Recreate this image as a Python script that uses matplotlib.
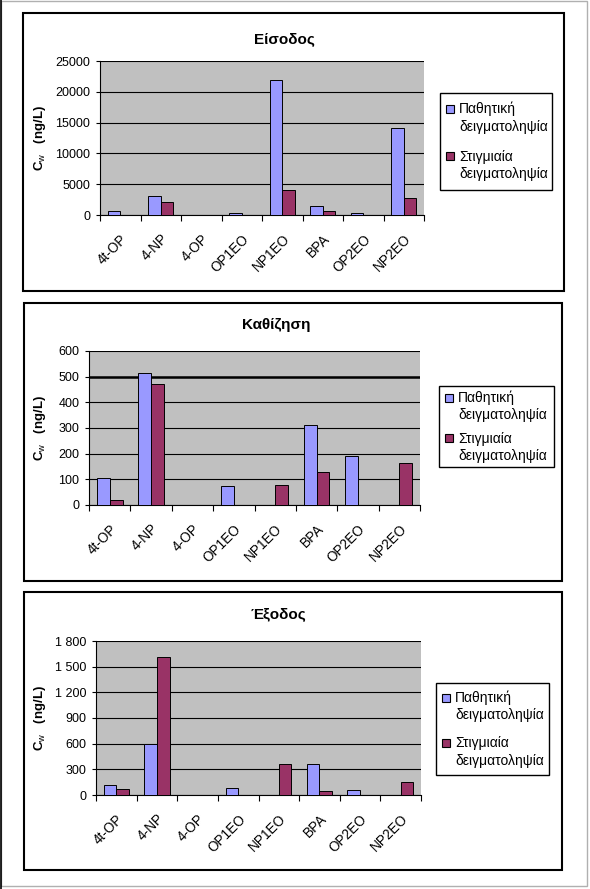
import matplotlib
matplotlib.use("Agg")
import matplotlib.pyplot as plt
import matplotlib.transforms as mtransforms
from matplotlib.patches import Rectangle
from matplotlib.lines import Line2D
from matplotlib.ticker import FixedLocator, FuncFormatter

plt.rcParams["font.family"] = ["Liberation Sans", "DejaVu Sans"]
plt.rcParams["mathtext.fontset"] = "custom"
plt.rcParams["mathtext.rm"] = "Liberation Sans"
plt.rcParams["mathtext.bf"] = "Liberation Sans:bold"

# data
categories = ["4t-OP", "4-NP", "4-OP", "OP1EO", "NP1EO", "BPA", "OP2EO", "NP2EO"]
series_names = ["Παθητική\nδειγματοληψία", "Στιγμιαία\nδειγματοληψία"]
titles = ["Είσοδος", "Καθίζηση", "Έξοδος"]

inlet_passive = [650, 3080, 0, 320, 21870, 1460, 320, 14090]
inlet_grab = [0, 2160, 0, 0, 4050, 700, 0, 2750]
settle_passive = [105, 516, 0, 74, 0, 310, 190, 0]
settle_grab = [19, 473, 0, 0, 78, 128, 0, 163]
outlet_passive = [113, 595, 0, 82, 0, 358, 54, 0]
outlet_grab = [66, 1610, 0, 0, 358, 43, 0, 148]

y_max = [25000, 600, 1800]
y_step = [5000, 100, 300]
space_thousands = [False, False, True]
bold_grid = [None, 500, None]

colors = ["#9999FF", "#993366"]

W, H = 590, 889
fig = plt.figure(figsize=(W / 100, H / 100), dpi=100)
px = mtransforms.Affine2D().scale(1 / W, -1 / H).translate(0, 1) + fig.transFigure

# layout in pixels: panel box, plot area, legend box (x0, y0, x1, y1)
panel_boxes = [(23, 13, 564, 291), (24, 303, 562, 581), (24, 592, 562, 870)]
plot_boxes = [(100, 61, 424, 215), (89, 351, 420, 505), (96, 641, 421, 795)]
legend_boxes = [(440, 93, 552, 190), (439, 386, 554, 467), (436, 683, 549, 775)]
legend_pads = [(16, 30), (12, 23), (15, 28)]
title_x = [284, 276, 278]
title_y = [39, 325, 614]

# outer frame
fig.add_artist(Rectangle((1, 1), 586, 885, transform=px, fill=False,
                         edgecolor="#b0b0b0", lw=1))
fig.add_artist(Line2D([0.8, 0.8], [0, H], transform=px, color="black", lw=1.2))

data = [(inlet_passive, inlet_grab), (settle_passive, settle_grab),
        (outlet_passive, outlet_grab)]

for i, (passive, grab) in enumerate(data):
    bx = panel_boxes[i]
    fig.add_artist(Rectangle((bx[0], bx[1]), bx[2] - bx[0], bx[3] - bx[1],
                             transform=px, fill=False, edgecolor="black", lw=1.5))

    x0, y0, x1, y1 = plot_boxes[i]
    ax = fig.add_axes([x0 / W, 1 - y1 / H, (x1 - x0) / W, (y1 - y0) / H])
    ax.set_facecolor("#C0C0C0")
    xs = list(range(len(categories)))
    w = 0.31
    ax.bar([x - w / 2 for x in xs], passive, width=w, color=colors[0],
           edgecolor="black", linewidth=0.7, zorder=3)
    ax.bar([x + w / 2 for x in xs], grab, width=w, color=colors[1],
           edgecolor="black", linewidth=0.7, zorder=3)

    ax.set_xlim(-0.5, len(categories) - 0.5)
    ax.set_ylim(0, y_max[i])
    ax.set_yticks(range(0, y_max[i] + 1, y_step[i]))
    if space_thousands[i]:
        ax.yaxis.set_major_formatter(FuncFormatter(lambda v, p: f"{v:,.0f}".replace(",", " ")))
    else:
        ax.yaxis.set_major_formatter(FuncFormatter(lambda v, p: f"{v:.0f}"))
    ax.yaxis.grid(True, color="black", lw=0.8)
    ax.set_axisbelow(True)
    if bold_grid[i] is not None:
        ax.axhline(bold_grid[i], color="black", lw=1.8, zorder=2)

    ax.set_xticks(xs)
    ax.set_xticklabels(categories, rotation=45, ha="right", va="top",
                       rotation_mode="anchor", fontsize=9.8)
    ax.xaxis.set_minor_locator(FixedLocator([x - 0.5 for x in range(len(categories) + 1)]))
    ax.tick_params(axis="x", which="major", length=0, pad=12)
    ax.tick_params(axis="x", which="minor", length=4.5, width=0.8, direction="out")
    ax.tick_params(axis="y", length=3, width=0.8, pad=4, labelsize=9)

    for s in ["top", "right"]:
        ax.spines[s].set_visible(False)
    for s in ["left", "bottom"]:
        ax.spines[s].set_color("black")
        ax.spines[s].set_linewidth(0.8)

    fig.text(title_x[i], title_y[i], titles[i], transform=px, ha="center",
             va="center", fontsize=11, fontweight="bold")
    fig.text(40, (y0 + y1) / 2, r"$\mathbf{C}_{\mathrm{w}}$   (ng/L)", transform=px,
             rotation=90, ha="center", va="center", fontsize=9.5, fontweight="bold")

    # legend drawn in pixel space
    lx0, ly0, lx1, ly1 = legend_boxes[i]
    fig.add_artist(Rectangle((lx0, ly0), lx1 - lx0, ly1 - ly0, transform=px,
                             facecolor="white", edgecolor="black", lw=1))
    pad, gap = legend_pads[i]
    line_y = ly0 + pad
    for k, name in enumerate(series_names):
        fig.add_artist(Rectangle((lx0 + 6, line_y - 4.5), 8, 8, transform=px,
                                 facecolor=colors[k], edgecolor="black", lw=0.8))
        first, second = name.split("\n")
        fig.text(lx0 + 19, line_y, first, transform=px, ha="left",
                 va="center", fontsize=10)
        fig.text(lx0 + 19, line_y + 17.5, second, transform=px, ha="left",
                 va="center", fontsize=10)
        line_y += 17.5 + gap

fig.savefig("out.png", dpi=100)
